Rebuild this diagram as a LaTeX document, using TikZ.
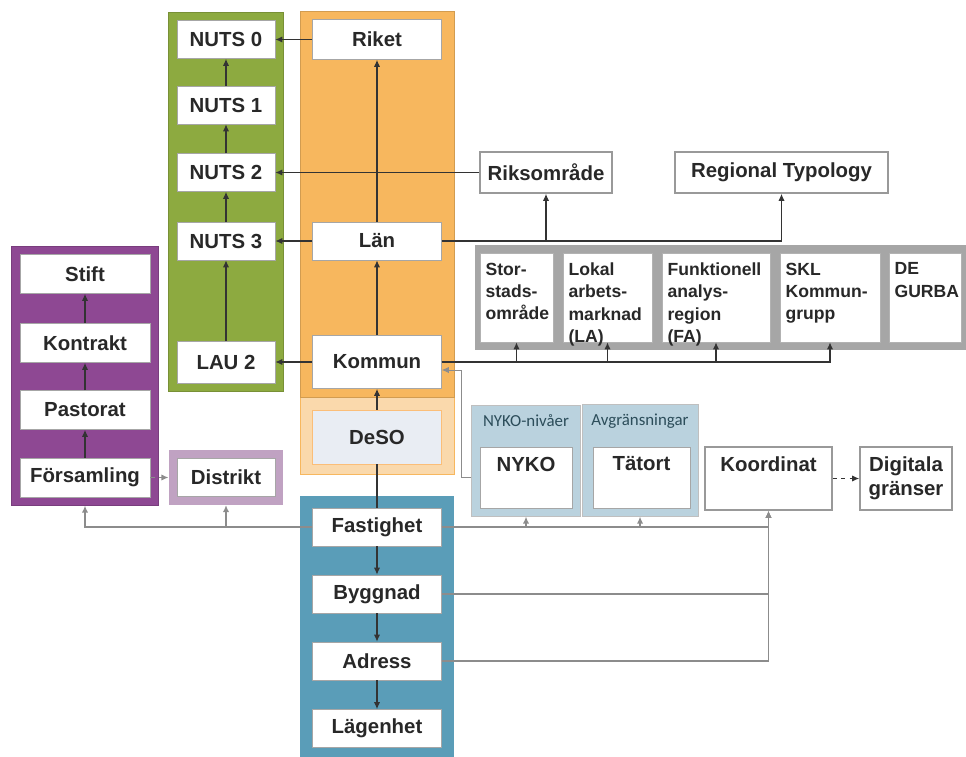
\documentclass[tikz,border=0pt]{standalone}
\usepackage{fontspec}
\setmainfont{Liberation Sans}
\newfontfamily\titlefont{Carlito}
\usetikzlibrary{arrows.meta,fit,backgrounds}
\definecolor{nutsgreen}{RGB}{141,170,64}
\definecolor{lanorange}{RGB}{247,183,94}
\definecolor{desoorange}{RGB}{250,217,172}
\definecolor{desofill}{RGB}{233,237,243}
\definecolor{kyrkpurple}{RGB}{142,72,147}
\definecolor{distrpurple}{RGB}{192,162,194}
\definecolor{fastblue}{RGB}{90,157,184}
\definecolor{stripgray}{RGB}{166,166,166}
\definecolor{nykoblue}{RGB}{186,210,222}
\definecolor{textgray}{RGB}{40,40,40}
\definecolor{linkgray}{RGB}{140,140,140}
\begin{document}
\begin{tikzpicture}[x=0.025cm,y=-0.025cm,
  box/.style={draw=black!35,fill=white,inner sep=2pt,text=textgray,
    font=\fontsize{14.5}{17}\selectfont\bfseries},
  nutsbox/.style={box,minimum width=2.45cm,minimum height=0.95cm},
  lanbox/.style={box,minimum width=3.225cm,minimum height=0.95cm},
  kyrkbox/.style={box,minimum width=3.25cm,minimum height=0.975cm},
  outbox/.style={box,draw=black!40,line width=1.1pt,minimum height=1.025cm},
  stripbox/.style={box,draw=black!30,minimum height=2.225cm},
  striptext/.style={anchor=north west,align=left,inner xsep=4pt,inner ysep=7pt,
    text=textgray,font=\fontsize{12.5}{15.8}\selectfont\bfseries},
  toptext/.style={anchor=north,inner sep=7pt,text=textgray,
    font=\fontsize{14.5}{17}\selectfont\bfseries},
  smalltitle/.style={inner sep=1pt,text=black!30!fastblue!70!black,
    font=\titlefont\fontsize{12}{14}\selectfont},
  panel/.style={inner sep=0.2cm},
  link/.style={draw=black!80,line width=0.9pt,-{Latex[length=5pt,width=4.5pt]}},
  plainlink/.style={draw=black!80,line width=0.9pt},
  graylink/.style={draw=linkgray,line width=1.2pt,-{Latex[length=5pt,width=4.5pt]}}]
\useasboundingbox (0,0) rectangle (966,756);

\node[nutsbox] (nuts0) at (226,39.5) {NUTS 0};
\node[nutsbox] (nuts1) at (226,105) {NUTS 1};
\node[nutsbox] (nuts2) at (226,172.5) {NUTS 2};
\node[nutsbox] (nuts3) at (226,241) {NUTS 3};
\node[nutsbox,minimum height=1.05cm] (lau2) at (226,362) {LAU 2};

\node[lanbox,minimum height=1cm] (riket) at (377,39.5) {Riket};
\node[lanbox] (lan) at (377,241) {Län};
\node[lanbox,minimum height=1.325cm] (kommun) at (377,362) {Kommun};
\node[lanbox,minimum height=1.35cm,fill=desofill,draw=desoorange!70!orange] (deso) at (377,437) {DeSO};

\node[lanbox] (fastighet) at (377,527) {Fastighet};
\node[lanbox] (byggnad) at (377,594) {Byggnad};
\node[lanbox] (adress) at (377,661) {Adress};
\node[lanbox] (lagenhet) at (377,728.5) {Lägenhet};

\node[kyrkbox] (stift) at (85,274) {Stift};
\node[kyrkbox] (kontrakt) at (85,343) {Kontrakt};
\node[kyrkbox] (pastorat) at (85,410) {Pastorat};
\node[kyrkbox] (forsamling) at (85,477.5) {Församling};
\node[nutsbox] (distrikt) at (226,477.5) {Distrikt};

\node[outbox,minimum width=3.3cm] (riks) at (546,172.5) {Riksområde};
\node[outbox,minimum width=5.325cm] (regtyp) at (781.5,172.5) {Regional Typology};

\node[stripbox,minimum width=1.825cm,label={[striptext]north west:Stor-\\stads-\\område}] (stor) at (516.5,297.5) {};
\node[stripbox,minimum width=2.225cm,label={[striptext]north west:Lokal\\arbets-\\marknad\\(LA)}] (lokal) at (607.5,297.5) {};
\node[stripbox,minimum width=2.7cm,label={[striptext]north west:Funktionell\\analys-\\region\\(FA)}] (funk) at (716,297.5) {};
\node[stripbox,minimum width=2.5cm,label={[striptext]north west:SKL\\Kommun-\\grupp}] (skl) at (830,297.5) {};
\node[stripbox,minimum width=1.8cm,label={[striptext]north west:DE\\GURBA}] (gurba) at (925,297.5) {};

\node[smalltitle] (nykotitle) at (526,421) {NYKO-nivåer};
\node[box,minimum width=2.3cm,minimum height=1.525cm,label={[toptext]north:NYKO}] (nyko) at (526,477.5) {};
\node[smalltitle] (avgtitle) at (640,421) {Avgränsningar};
\node[box,minimum width=2.425cm,minimum height=1.525cm,label={[toptext]north:Tätort}] (tatort) at (641.5,477.5) {};

\node[outbox,minimum width=3.175cm,minimum height=1.575cm,label={[toptext]north:Koordinat}] (koord) at (768.5,478.5) {};
\node[outbox,minimum width=2.3cm,minimum height=1.575cm,align=center] (digital) at (906,478.5) {Digitala\\gränser};

\begin{scope}[on background layer]
\node[panel,fill=desoorange,draw=lanorange,fit=(kommun)(deso),inner xsep=0.3cm,inner ysep=0.25cm] (desopanel) {};
\node[panel,fill=lanorange,draw=lanorange!85!black,fit=(riket)(kommun),inner xsep=0.3cm] (lanpanel) {};
\node[panel,fill=nutsgreen,draw=nutsgreen!85!black,fit=(nuts0)(lau2)] (nutspanel) {};
\node[panel,fill=kyrkpurple,draw=kyrkpurple!85!black,fit=(stift)(forsamling)] (kyrkpanel) {};
\node[panel,fill=distrpurple,fit=(distrikt)] (distrpanel) {};
\node[panel,fill=fastblue,fit=(fastighet)(lagenhet),inner xsep=0.3cm,inner ysep=0.3cm] (fastpanel) {};
\node[panel,fill=stripgray,fit=(stor)(gurba),inner xsep=0.125cm] (strippanel) {};
\node[panel,fill=nykoblue,draw=black!25,fit=(nykotitle)(nyko)] (nykopanel) {};
\node[panel,fill=nykoblue,draw=black!25,fit=(avgtitle)(tatort)] (avgpanel) {};
\end{scope}

\draw[link] (nuts1) -- (nuts0);
\draw[link] (nuts2) -- (nuts1);
\draw[link] (nuts3) -- (nuts2);
\draw[link] (lau2) -- (nuts3);
\draw[link] (riket) -- (nuts0);
\draw[link] (riks) -- (nuts2);
\draw[link] (lan) -- (nuts3);
\draw[link] (kommun) -- (lau2);
\draw[link] (lan) -- (riket);
\draw[link] (kommun) -- (lan);
\draw[link] (deso) -- (kommun);
\draw[plainlink] (deso) -- (fastighet);
\draw[link] (fastighet) -- (byggnad);
\draw[link] (byggnad) -- (adress);
\draw[link] (adress) -- (lagenhet);
\draw[link] (kontrakt) -- (stift);
\draw[link] (pastorat) -- (kontrakt);
\draw[link] (forsamling) -- (pastorat);
\draw[link,draw=linkgray,dashed] (forsamling) -- (distrpanel);

\draw[link] (lan.east) -| (riks);
\draw[link] (lan.east) -| (regtyp);
\draw[link] (kommun.east) -| (stor);
\draw[link] (kommun.east) -| (lokal);
\draw[link] (kommun.east) -| (funk);
\draw[link] (kommun.east) -| (skl);
\draw[graylink,line width=0.6pt] (nykopanel.west |- nyko) -- ++(-10,0) |- ([yshift=-0.2cm]kommun.east);

\draw[graylink] (fastighet.west) -| (kyrkpanel);
\draw[graylink] (fastighet.west) -| (distrpanel);
\draw[graylink] (fastighet.east) -| (nykopanel);
\draw[graylink] (fastighet.east) -| (avgpanel);
\draw[graylink] (fastighet.east) -| (koord);
\draw[graylink] (byggnad.east) -| (koord);
\draw[graylink] (adress.east) -| (koord);
\draw[link,dashed] (koord) -- (digital);
\end{tikzpicture}
\end{document}
